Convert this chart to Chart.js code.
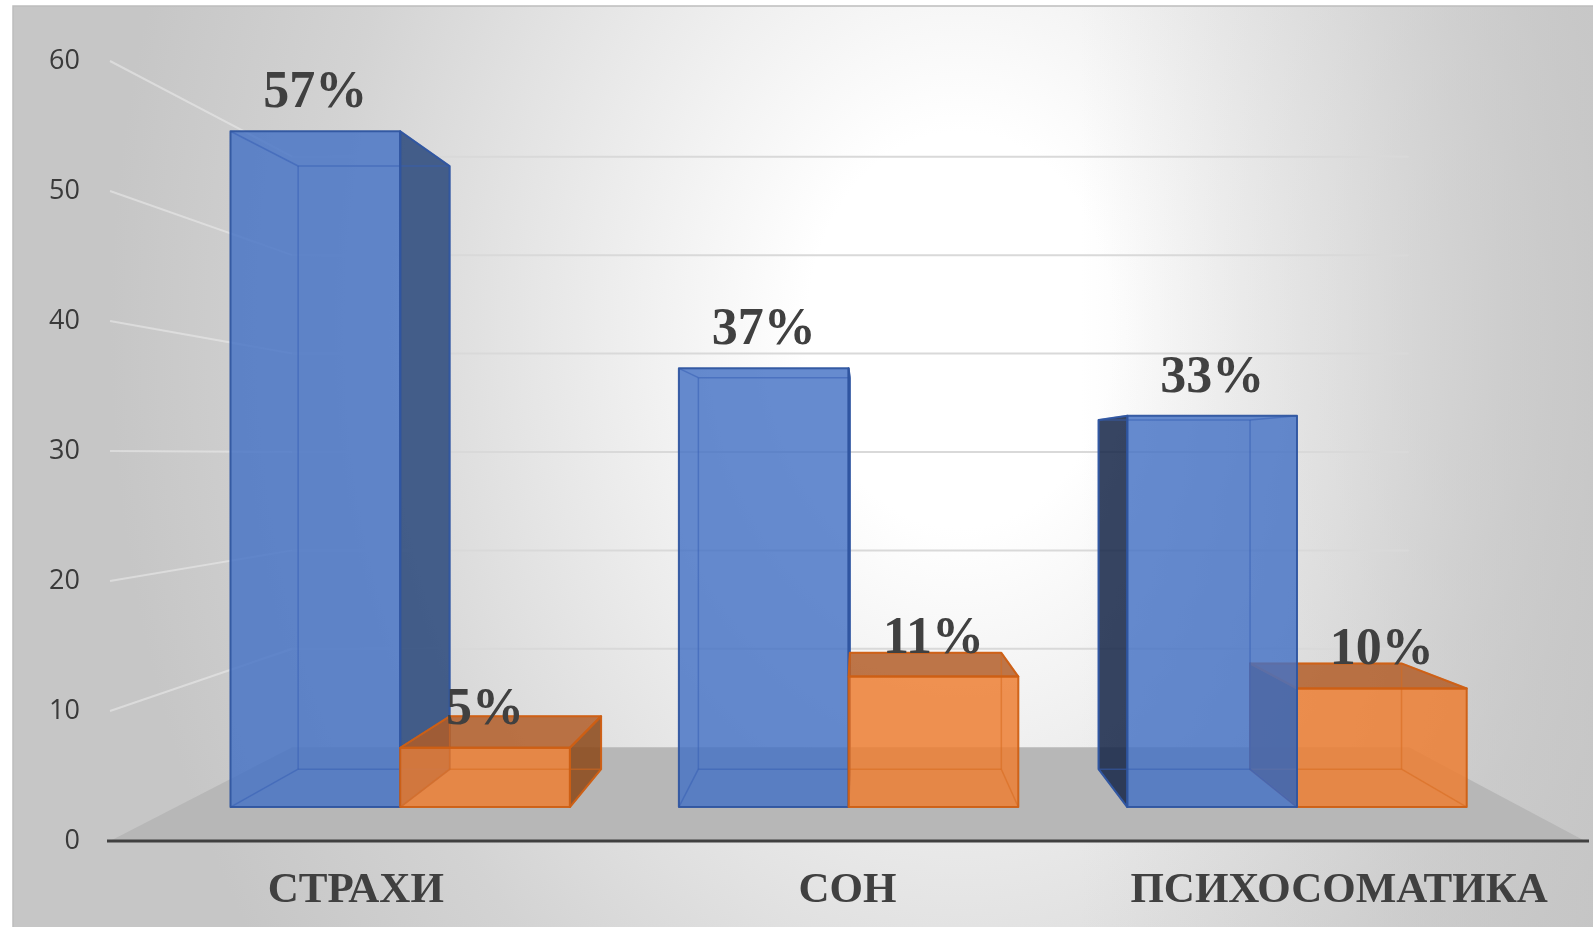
<!DOCTYPE html>
<html>
<head>
<meta charset="utf-8">
<title>СТРАХИ / СОН / ПСИХОСОМАТИКА</title>
<script src="https://cdn.jsdelivr.net/npm/chart.js@4.4.0/dist/chart.umd.min.js"></script>
<style>
  html, body { margin: 0; padding: 0; background: #fff; }
  #wrap { width: 1593px; height: 927px; position: relative; }
</style>
</head>
<body>
<div id="wrap"><canvas id="myChart"></canvas></div>
<script>
const categories = ["СТРАХИ", "СОН", "ПСИХОСОМАТИКА"];
const blueValues = [57, 37, 33];
const orangeValues = [5, 11, 10];
const yTickValues = [0, 10, 20, 30, 40, 50, 60];

// excel-like 3d view: vanishing point (share of chart area) and depth scales
const VP_X = 0.5085, VP_Y = 0.4949;
const S_FRONT = 0.912, S_BACK = 0.814, S_WALL = 0.757;

const palettes = [
  {
    front: "rgba(68,114,196,0.82)",
    top: "rgba(50,88,155,0.85)",
    right: "rgba(40,70,122,0.85)",
    left: "rgba(22,38,72,0.86)",
    edge: "rgba(47,85,160,0.95)",
    inner: "rgba(55,95,180,0.55)",
  },
  {
    front: "rgba(237,125,49,0.84)",
    top: "rgba(178,92,38,0.84)",
    right: "rgba(140,72,25,0.86)",
    left: "rgba(110,55,20,0.86)",
    edge: "rgba(205,95,20,0.95)",
    inner: "rgba(215,105,30,0.55)",
  },
];

function vanish(chart) {
  const a = chart.chartArea;
  return {
    x: a.left + (a.right - a.left) * VP_X,
    y: a.bottom - (a.bottom - a.top) * VP_Y,
  };
}

function project(v, X, Y, s) {
  return [v.x + (X - v.x) * s, v.y + (Y - v.y) * s];
}

function poly(ctx, pts, fill, stroke, lw) {
  ctx.beginPath();
  ctx.moveTo(pts[0][0], pts[0][1]);
  for (let i = 1; i < pts.length; i++) ctx.lineTo(pts[i][0], pts[i][1]);
  ctx.closePath();
  if (fill) {
    ctx.fillStyle = fill;
    ctx.fill();
  }
  if (stroke) {
    ctx.strokeStyle = stroke;
    ctx.lineWidth = lw || 2;
    ctx.lineJoin = "round";
    ctx.stroke();
  }
}

function seg(ctx, p, q) {
  ctx.beginPath();
  ctx.moveTo(p[0], p[1]);
  ctx.lineTo(q[0], q[1]);
  ctx.stroke();
}

function drawBox(ctx, v, b) {
  const c = b.pal;
  const corners = [[b.x0, b.top], [b.x1, b.top], [b.x1, b.base], [b.x0, b.base]];
  const F = corners.map((p) => project(v, p[0], p[1], S_FRONT));
  const B = corners.map((p) => project(v, p[0], p[1], S_BACK));
  const showRight = b.x1 < v.x;
  const showLeft = b.x0 > v.x;
  const showTop = b.top > v.y;

  if (showLeft) poly(ctx, [F[0], B[0], B[3], F[3]], c.left);
  if (showRight) poly(ctx, [F[1], B[1], B[2], F[2]], c.right);
  if (showTop) poly(ctx, [F[0], F[1], B[1], B[0]], c.top);
  poly(ctx, F, c.front);

  // edges seen through the glass
  ctx.strokeStyle = c.inner;
  ctx.lineWidth = 1.5;
  for (let k = 0; k < 4; k++) {
    seg(ctx, B[k], B[(k + 1) % 4]);
    seg(ctx, F[k], B[k]);
  }

  // outer edges
  if (showLeft) poly(ctx, [F[0], B[0], B[3], F[3]], null, c.edge, 2);
  if (showRight) poly(ctx, [F[1], B[1], B[2], F[2]], null, c.edge, 2);
  if (showTop) poly(ctx, [F[0], F[1], B[1], B[0]], null, c.edge, 2);
  poly(ctx, F, null, c.edge, 2);
  return F;
}

const scene3d = {
  id: "scene3d",
  beforeDraw(chart) {
    const { ctx, width, height } = chart;
    const a = chart.chartArea;
    const y = chart.scales.y;
    const v = vanish(chart);

    ctx.save();
    ctx.fillStyle = "#ffffff";
    ctx.fillRect(0, 0, width, height);

    // gray panel with light centre
    const px = 13, py = 6;
    ctx.save();
    ctx.beginPath();
    ctx.rect(px, py, width - px, height - py);
    ctx.clip();
    ctx.save();
    ctx.translate(960, 330);
    ctx.scale(1, 1100 / 850);
    const g = ctx.createRadialGradient(0, 0, 0, 0, 0, 850);
    g.addColorStop(0, "#ffffff");
    g.addColorStop(0.18, "#ffffff");
    g.addColorStop(0.75, "#d3d3d3");
    g.addColorStop(1, "#c6c6c6");
    ctx.fillStyle = g;
    ctx.fillRect(-2000, -2000, 4000, 4000);
    ctx.restore();
    // darker toward the right edge
    const rg = ctx.createLinearGradient(1080, 0, width, 0);
    rg.addColorStop(0, "rgba(196,196,196,0)");
    rg.addColorStop(0.5, "rgba(196,196,196,0.3)");
    rg.addColorStop(1, "rgba(196,196,196,0.75)");
    ctx.fillStyle = rg;
    ctx.fillRect(1080, py, width - 1080, height - py);
    ctx.restore();

    ctx.strokeStyle = "#bdbdbd";
    ctx.lineWidth = 1.5;
    ctx.beginPath();
    ctx.moveTo(px, height);
    ctx.lineTo(px, py);
    ctx.lineTo(width, py);
    ctx.stroke();

    // side wall and back wall gridlines
    yTickValues.forEach((t) => {
      if (t === 0) return;
      const yp = y.getPixelForValue(t);
      const bl = project(v, a.left, yp, S_WALL);
      const br = project(v, a.right, yp, S_WALL);
      ctx.lineWidth = 2;
      ctx.strokeStyle = "rgba(236,236,236,0.55)";
      seg(ctx, [a.left, yp], bl);
      ctx.strokeStyle = "#d9d9d9";
      seg(ctx, bl, br);
    });

    // floor
    const y0 = y.getPixelForValue(0);
    poly(ctx, [[a.left, y0], project(v, a.left, y0, S_WALL), project(v, a.right, y0, S_WALL), [a.right, y0]], "#b7b7b7");
    ctx.strokeStyle = "#404040";
    ctx.lineWidth = 3;
    seg(ctx, [a.left - 3, y0], [a.right + 4, y0]);
    ctx.restore();
  },
  afterDatasetsDraw(chart) {
    const ctx = chart.ctx;
    const v = vanish(chart);
    const boxes = [];
    chart.data.datasets.forEach((ds, di) => {
      const meta = chart.getDatasetMeta(di);
      meta.data.forEach((bar, i) => {
        boxes.push({
          x0: bar.x - bar.width / 2,
          x1: bar.x + bar.width / 2,
          top: bar.y,
          base: bar.base,
          pal: palettes[di],
          cat: i,
          label: ds.data[i] + "%",
        });
      });
    });
    // per category: the box farthest from the vanishing point goes first
    boxes.sort((p, q) => p.cat - q.cat ||
      Math.abs(q.x0 + q.x1 - 2 * v.x) - Math.abs(p.x0 + p.x1 - 2 * v.x));

    ctx.save();
    const fronts = boxes.map((b) => drawBox(ctx, v, b));
    ctx.font = 'bold 52px "Liberation Serif", "Times New Roman", serif';
    ctx.fillStyle = "#404040";
    ctx.textAlign = "center";
    ctx.textBaseline = "alphabetic";
    boxes.forEach((b, i) => {
      const F = fronts[i];
      ctx.fillText(b.label, (F[0][0] + F[1][0]) / 2, F[0][1] - 24);
    });
    ctx.restore();
  },
};

const data = {
  labels: categories,
  datasets: [
    { label: "ряд 1", data: blueValues },
    { label: "ряд 2", data: orangeValues },
  ].map((d) => ({
    ...d,
    backgroundColor: "rgba(0,0,0,0)",
    borderWidth: 0,
    categoryPercentage: 0.757,
    barPercentage: 1.0,
  })),
};

const config = {
  type: "bar",
  data,
  plugins: [scene3d],
  options: {
    responsive: true,
    maintainAspectRatio: false,
    devicePixelRatio: 1,
    animation: false,
    layout: { padding: { top: 61, right: 8, left: 0, bottom: 0 } },
    scales: {
      x: {
        grid: { display: false, drawTicks: false },
        border: { display: false },
        ticks: {
          padding: 24,
          maxRotation: 0,
          minRotation: 0,
          autoSkip: false,
          color: "#404040",
          font: { family: '"Liberation Serif", "Times New Roman", serif', weight: "bold", size: 43 },
        },
        afterFit: (scale) => { scale.height = 86; },
      },
      y: {
        min: 0,
        max: 60,
        grid: { display: false, drawTicks: false },
        border: { display: false },
        ticks: {
          stepSize: 10,
          padding: 30,
          color: "#3a3a3a",
          font: { family: '"Open Sans", "Noto Sans", sans-serif', size: 27 },
        },
        afterFit: (scale) => { scale.width = 110; },
      },
    },
    plugins: {
      legend: { display: false },
      tooltip: { enabled: false },
    },
  },
};

const myChart = new Chart(document.getElementById("myChart"), config);
</script>
</body>
</html>
